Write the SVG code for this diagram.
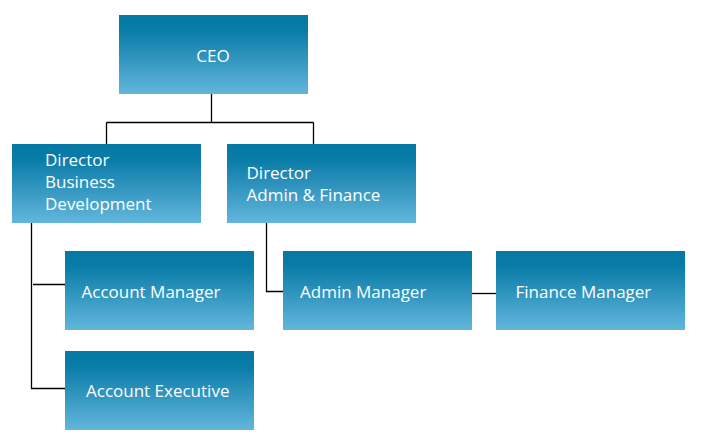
<svg xmlns="http://www.w3.org/2000/svg" width="703" height="443" viewBox="0 0 703 443">
<defs>
<linearGradient id="g" x1="0" y1="0" x2="0" y2="1">
<stop offset="0" stop-color="#0578a4"/>
<stop offset="0.2" stop-color="#0a7ca8"/>
<stop offset="1" stop-color="#63b6dc"/>
</linearGradient>
</defs>
<style>
.box{fill:url(#g);}
.t{fill:#ffffff;font-family:"Open Sans","DejaVu Sans",sans-serif;font-size:17px;}
.c{fill:none;stroke:#000;stroke-width:1.3;}
</style>
<rect width="703" height="443" fill="#fff"/>
<g id="connectors">
<path class="c" d="M211.5 94V122.5M106.5 122.5H313.5M106.5 122.5V144M313.5 122.5V144"/>
<path class="c" d="M31.5 223V388.5H65M33 284.5H65"/>
<path class="c" d="M266.5 223V291.5H283"/>
<path class="c" d="M472 293.5H496"/>
</g>
<g id="ceo"><rect class="box" x="119" y="15" width="189" height="79"/><text class="t" x="213" y="62" text-anchor="middle">CEO</text></g>
<g id="dir-bd"><rect class="box" x="12" y="144" width="189" height="79"/><text class="t" x="45" y="166">Director</text><text class="t" x="45" y="188">Business</text><text class="t" x="45" y="209.5">Development</text></g>
<g id="dir-af"><rect class="box" x="227" y="144" width="189" height="79"/><text class="t" x="246.5" y="178.5">Director</text><text class="t" x="246.5" y="200.5">Admin &amp; Finance</text></g>
<g id="account-manager"><rect class="box" x="65" y="251" width="189" height="79"/><text class="t" x="81.5" y="298">Account Manager</text></g>
<g id="account-executive"><rect class="box" x="65" y="351" width="189" height="79"/><text class="t" x="86" y="397">Account Executive</text></g>
<g id="admin-manager"><rect class="box" x="283" y="251" width="189" height="79"/><text class="t" x="300" y="298">Admin Manager</text></g>
<g id="finance-manager"><rect class="box" x="496" y="251" width="189" height="79"/><text class="t" x="515.5" y="298">Finance Manager</text></g>
</svg>
